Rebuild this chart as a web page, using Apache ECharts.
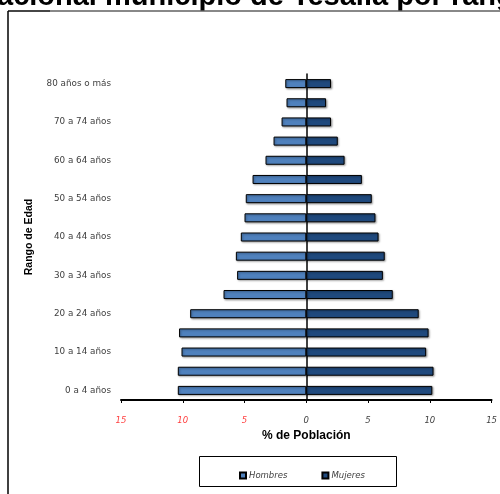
<!DOCTYPE html>
<html>
<head>
<meta charset="utf-8">
<script src="https://cdn.jsdelivr.net/npm/echarts@6/dist/echarts.min.js"></script>
<style>
html,body{margin:0;padding:0;background:#fff;}
#main{width:500px;height:494px;}
</style>
</head>
<body>
<div id="main"></div>
<script>
var titleText = 'Pirámide poblacional municipio de Tesalia por rango de edad';
var titleHidden = 'Pirámide pobl';
var categories = ['0 a 4 años','5 a 9 años','10 a 14 años','15 a 19 años','20 a 24 años','25 a 29 años','30 a 34 años','35 a 39 años','40 a 44 años','45 a 49 años','50 a 54 años','55 a 59 años','60 a 64 años','65 a 69 años','70 a 74 años','75 a 79 años','80 años o más'];
var hombres = [10.4,10.4,10.1,10.3,9.4,6.7,5.6,5.7,5.3,5.0,4.9,4.35,3.3,2.65,2.0,1.6,1.7];
var mujeres = [10.2,10.3,9.7,9.9,9.1,7.0,6.2,6.35,5.85,5.6,5.3,4.5,3.1,2.55,2.0,1.6,2.0];
var xTicks = {min:-15, max:15, interval:5};
var seriesNames = ['Hombres','Mujeres'];

var titleFont = 'bold 29px "Liberation Sans"';
var cv = document.createElement('canvas').getContext('2d');
cv.font = titleFont;
var titleX = -cv.measureText(titleHidden).width - 3;

var chart = echarts.init(document.getElementById('main'), null, {renderer:'canvas'});
var labelFont = 'DejaVu Sans';
var barStyle = function(c){
  return {color:c, borderColor:'#000', borderWidth:1,
          shadowColor:'rgba(0,0,0,0.35)', shadowBlur:2, shadowOffsetX:1, shadowOffsetY:1};
};
var option = {
  animation:false,
  backgroundColor:'#fff',
  grid:{left:121, right:8, top:74, bottom:94, containLabel:false},
  xAxis:{
    type:'value', min:xTicks.min, max:xTicks.max, interval:xTicks.interval,
    axisLine:{show:true, lineStyle:{color:'#000', width:2}},
    axisTick:{show:true, length:3, lineStyle:{color:'#000', width:1}},
    splitLine:{show:false},
    axisLabel:{
      margin:16, fontSize:8.5, fontStyle:'italic', fontFamily:labelFont,
      formatter:function(v){return String(Math.abs(v));},
      color:function(v){return Number(v) < 0 ? '#ff4040' : '#404040';}
    },
    name:'% de Población', nameLocation:'middle', nameGap:30,
    nameTextStyle:{fontSize:12, fontWeight:'bold', color:'#000', fontFamily:'Liberation Sans'}
  },
  yAxis:{
    type:'category', data:categories,
    axisLine:{show:true, lineStyle:{color:'#000', width:1.5}},
    axisTick:{show:false},
    axisLabel:{interval:1, margin:10, fontSize:8.8, color:'#404040', fontFamily:labelFont},
    name:'Rango de Edad', nameLocation:'middle', nameGap:86, nameRotate:90,
    nameTextStyle:{fontSize:10.5, fontWeight:'bold', color:'#000', fontFamily:'Liberation Sans'}
  },
  legend:{
    data:seriesNames, left:234, top:466, itemWidth:6, itemHeight:6, itemGap:34,
    icon:'rect',
    textStyle:{fontSize:8.5, fontStyle:'italic', color:'#404040', fontFamily:labelFont, padding:[0,0,0,-2]}
  },
  series:[
    {name:seriesNames[0], type:'bar', stack:'p', barWidth:9,
     data:hombres.map(function(v){return -v;}), itemStyle:barStyle('#4f81bd')},
    {name:seriesNames[1], type:'bar', stack:'p', barWidth:9,
     data:mujeres, itemStyle:barStyle('#1f497d')}
  ],
  graphic:[
    {type:'text', x:titleX, y:11, style:{text:titleText, font:titleFont, fill:'#000', textAlign:'left', textVerticalAlign:'bottom'}},
    {type:'rect', shape:{x:8, y:11, width:500, height:6}, style:{fill:'#fff'}},
    {type:'line', shape:{x1:8, y1:11, x2:500, y2:11}, style:{stroke:'#606060', lineWidth:1.5}},
    {type:'line', shape:{x1:8, y1:11, x2:50, y2:11}, style:{stroke:'#303030', lineWidth:1.5}},
    {type:'line', shape:{x1:8, y1:11, x2:8, y2:494}, style:{stroke:'#000', lineWidth:1.5}},
    {type:'rect', shape:{x:199.5, y:456.5, width:197, height:30}, style:{fill:'none', stroke:'#000', lineWidth:1}}
  ]
};
chart.setOption(option);
</script>
</body>
</html>
